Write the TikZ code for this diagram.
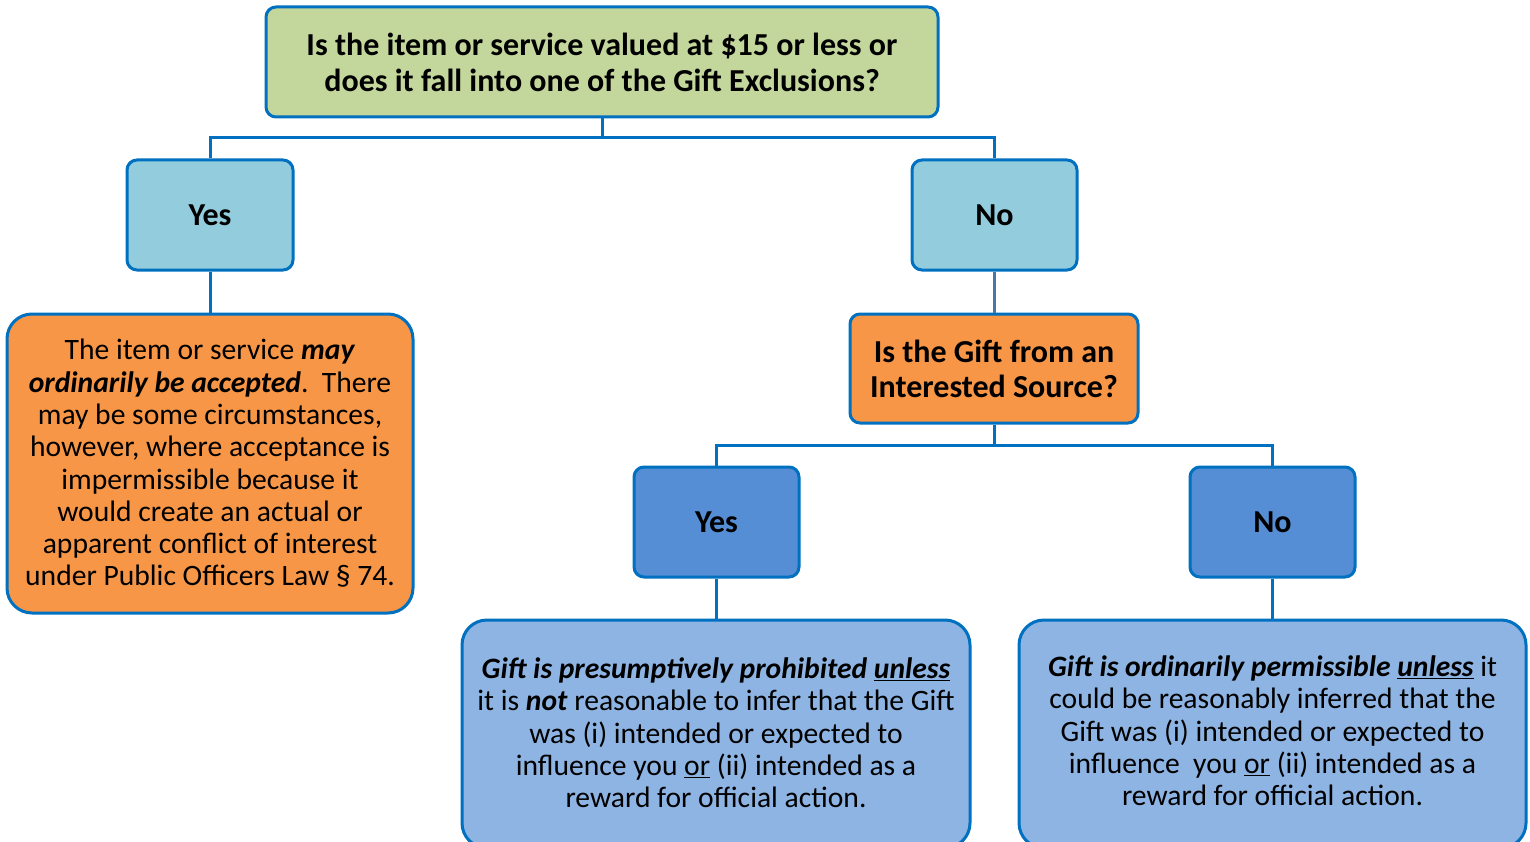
\documentclass[tikz,border=0pt]{standalone}
\usepackage{fontspec}
\setmainfont{Carlito}
\definecolor{bord}{HTML}{0070C0}
\definecolor{bordgray}{HTML}{4A76B0}
\definecolor{greenfill}{HTML}{C3D69B}
\definecolor{lightblue}{HTML}{93CDDD}
\definecolor{orangefill}{HTML}{F79646}
\definecolor{midblue}{HTML}{558ED5}
\definecolor{paleblue}{HTML}{8EB4E3}
\begin{document}
\begin{tikzpicture}[x=1pt,y=1pt,
  boxbase/.style={draw=bord, line width=3pt, inner sep=0pt, align=center, text=black},
  smallbox/.style={boxbase, rounded corners=10pt},
  bigbox/.style={boxbase, rounded corners=25pt},
  titlefont/.style={font=\fontsize{32}{36}\selectfont\bfseries},
  qfont/.style={font=\fontsize{32}{35}\selectfont\bfseries},
  bodyfont/.style={font=\fontsize{29.6}{32.3}\selectfont},
  conn/.style={draw=bord, line width=3pt},
  conngray/.style={draw=bordgray, line width=3pt}]
\clip (0,0) rectangle (1530,-842);
\useasboundingbox (0,0) rectangle (1530,-842);
% nodes
\node[smallbox, fill=greenfill, minimum width=672, minimum height=110, titlefont] (top) at (602,-62)
  {Is the item or service valued at \$15 or less or\\does it fall into one of the Gift Exclusions?};
\node[smallbox, fill=lightblue, minimum width=166, minimum height=110, titlefont] (yesA) at (210,-215) {Yes};
\node[smallbox, fill=lightblue, minimum width=165, minimum height=110, titlefont] (noA) at (994.5,-215) {No};
\node[bigbox, fill=orangefill, minimum width=406, minimum height=299, bodyfont] (accept) at (210,-463.5)
  {The item or service \textbf{\textit{may}}\\
   \textbf{\textit{ordinarily be accepted}}.\ \ There\\
   may be some circumstances,\\
   however, where acceptance is\\
   impermissible because it\\
   would create an actual or\\
   apparent conflict of interest\\
   under Public Officers Law § 74.};
\node[smallbox, fill=orangefill, minimum width=288, minimum height=109, qfont] (src) at (994,-368.5)
  {Is the Gift from an\\Interested Source?};
\node[smallbox, fill=midblue, minimum width=165, minimum height=110, titlefont] (yesB) at (716.5,-522) {Yes};
\node[smallbox, fill=midblue, minimum width=165, minimum height=110, titlefont] (noB) at (1272.5,-522) {No};
\node[bigbox, fill=paleblue, minimum width=508, minimum height=228] (prohib) at (716,-734) {};
\node[bigbox, fill=paleblue, minimum width=507, minimum height=228] (permit) at (1272.5,-734) {};
\node[bodyfont, align=center, inner sep=0pt] (prohibtxt) at (716,-733)
  {\textbf{\textit{Gift is presumptively prohibited \underline{unless}}}\\
   it is \textbf{\textit{not}} reasonable to infer that the Gift\\
   was (i) intended or expected to\\
   influence you \underline{or} (ii) intended as a\\
   reward for official action.};
\node[bodyfont, align=center, inner sep=0pt] (permittxt) at (1272.5,-731)
  {\textbf{\textit{Gift is ordinarily permissible \underline{unless}}} it\\
   could be reasonably inferred that the\\
   Gift was (i) intended or expected to\\
   influence\ \ you \underline{or} (ii) intended as a\\
   reward for official action.};
% connectors
\coordinate (j1) at (602,-138);
\coordinate (j2) at (994.5,-445);
\draw[conn] (top.south) -- (j1);
\draw[conn] (j1) -| (yesA.north);
\draw[conn] (j1) -| (noA.north);
\draw[conn] (yesA.south) -- (accept.north -| yesA.south);
\draw[conngray] (noA.south) -- (src.north -| noA.south);
\draw[conn] (src.south -| j2) -- (j2);
\draw[conn] (j2) -| (yesB.north);
\draw[conn] (j2) -| (noB.north);
\draw[conn] (yesB.south) -- (prohib.north -| yesB.south);
\draw[conn] (noB.south) -- (permit.north -| noB.south);
\end{tikzpicture}
\end{document}
